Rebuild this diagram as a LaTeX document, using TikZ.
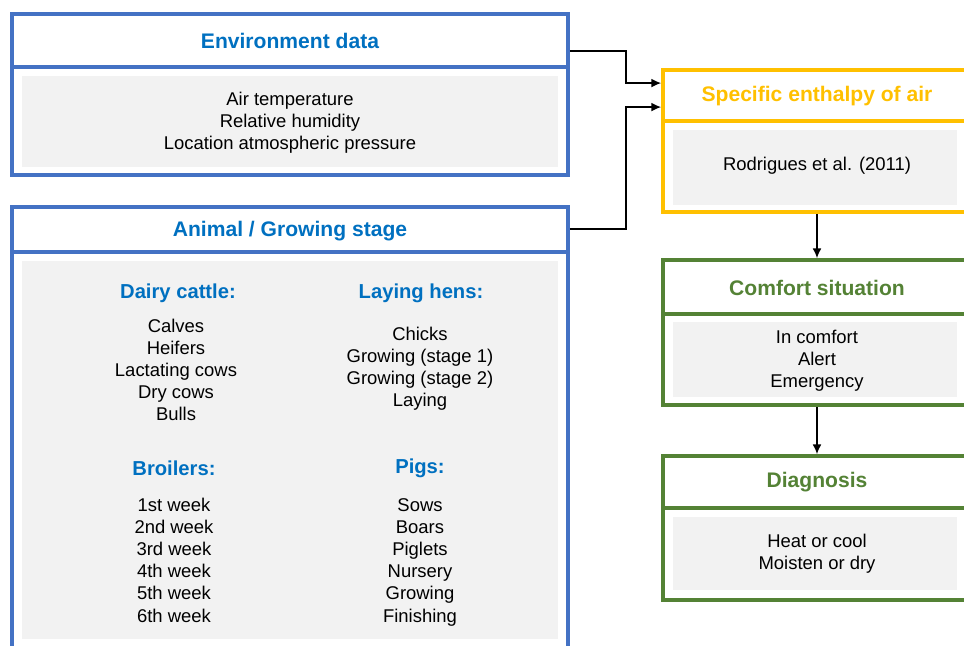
\documentclass[tikz,border=0pt]{standalone}
\usepackage{fontspec}
\setmainfont{Liberation Sans}
\usetikzlibrary{arrows.meta,positioning,calc,fit}

\definecolor{frameblue}{HTML}{4472C4}
\definecolor{titleblue}{HTML}{0070C0}
\definecolor{framegold}{HTML}{FFC000}
\definecolor{framegreen}{HTML}{548235}
\definecolor{panelgrey}{HTML}{F2F2F2}

\begin{document}
\begin{tikzpicture}[x=0.02cm, y=-0.02cm,
  frame/.style={draw=#1, line width=2.2pt, inner sep=0pt},
  panel/.style={fill=panelgrey, inner sep=0pt},
  divider/.style={draw=#1, line width=2.2pt},
  title/.style={font=\fontsize{12}{14}\selectfont\bfseries, text=#1},
  sub/.style={font=\fontsize{11.5}{14}\selectfont\bfseries, text=titleblue},
  item/.style={font=\fontsize{10.5}{12.5}\selectfont, align=center},
  link/.style={-{Latex[length=5.5pt,width=5pt]}, line width=0.7pt}]
  \clip (0,0) rectangle (964,646);

  % Environment data
  \node[frame=frameblue, fit={(12,14) (568,175)}] (env) {};
  \node[panel, fit={(22,76) (558,167)}] (envpanel) {};
  \draw[divider=frameblue] (env.west |- 0,67) -- (env.east |- 0,67);
  \node[title=titleblue] (envtitle) at (290,41) {Environment data};
  \node[item] (envlist) at (290,123) {Air temperature\\Relative humidity\\Location atmospheric pressure};

  % Animal / growing stage
  \node[frame=frameblue, fit={(12,207) (568,680)}] (animal) {};
  \node[panel, fit={(22,261) (558,639)}] (animalpanel) {};
  \draw[divider=frameblue] (animal.west |- 0,252) -- (animal.east |- 0,252);
  \node[title=titleblue] (animaltitle) at (290,231) {Animal / Growing stage};

  \node[sub] (dairy) at (178,293) {Dairy cattle:};
  \node[sub] (hens) at (421,293) {Laying hens:};
  \node[sub] (broilers) at (174,468) {Broilers:};
  \node[sub] (pigs) at (420,468) {Pigs:};

  \foreach \lab [count=\i] in {Calves,Heifers,Lactating cows,Dry cows,Bulls}
    \node[item, anchor=base] (dairy\i) at (176,{332+22.2*(\i-1)}) {\lab};
  \foreach \lab [count=\i] in {Chicks,Growing (stage 1),Growing (stage 2),Laying}
    \node[item, anchor=base] (hens\i) at (420,{340+22.2*(\i-1)}) {\lab};
  \foreach \lab [count=\i] in {1st week,2nd week,3rd week,4th week,5th week,6th week}
    \node[item, anchor=base] (broilers\i) at (174,{511+22.2*(\i-1)}) {\lab};
  \foreach \lab [count=\i] in {Sows,Boars,Piglets,Nursery,Growing,Finishing}
    \node[item, anchor=base] (pigs\i) at (420,{511+22.2*(\i-1)}) {\lab};

  % Specific enthalpy
  \node[frame=framegold, fit={(663,70) (971,212)}] (enth) {};
  \node[panel, fit={(673,130) (957,205)}] (enthpanel) {};
  \draw[divider=framegold] (enth.west |- 0,121) -- (enth.east |- 0,121);
  \node[title=framegold] (enthtitle) at (817,96) {Specific enthalpy of air};
  \node[item] (enthref) at (817,166) {Rodrigues et al. (2011)};

  % Comfort situation
  \node[frame=framegreen, fit={(663,260) (971,405)}] (comfort) {};
  \node[panel, fit={(673,322) (957,397)}] (comfortpanel) {};
  \draw[divider=framegreen] (comfort.west |- 0,314) -- (comfort.east |- 0,314);
  \node[title=framegreen] (comforttitle) at (817,288) {Comfort situation};
  \node[item] (comfortlist) at (817,361) {In comfort\\Alert\\Emergency};

  % Diagnosis
  \node[frame=framegreen, fit={(663,456) (971,600)}] (diag) {};
  \node[panel, fit={(673,517) (957,590)}] (diagpanel) {};
  \draw[divider=framegreen] (diag.west |- 0,508) -- (diag.east |- 0,508);
  \node[title=framegreen] (diagtitle) at (817,482) {Diagnosis};
  \node[item] (diaglist) at (817,554) {Heat or cool\\Moisten or dry};

  % Connectors
  \draw[link] ($(env.north east)+(0,39)$) -- ++(56,0) |- ($(enth.north west)+(0,15)$);
  \draw[link] ($(animal.north east)+(0,24)$) -- ++(56,0) |- ($(enth.north west)+(0,39)$);
  \draw[link] (enth.south) -- (comfort.north);
  \draw[link] (comfort.south) -- (diag.north);
\end{tikzpicture}
\end{document}
